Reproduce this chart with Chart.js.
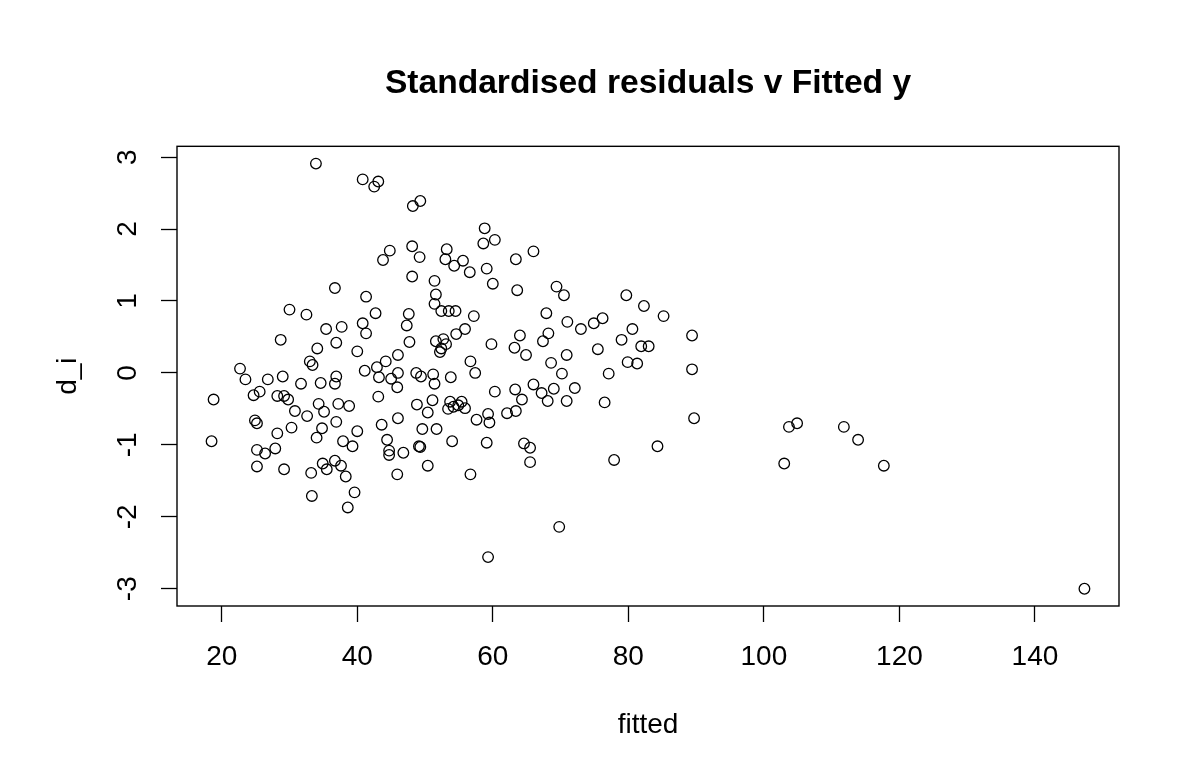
<!DOCTYPE html>
<html>
<head>
<meta charset="utf-8">
<title>Standardised residuals v Fitted y</title>
<script src="https://cdn.jsdelivr.net/npm/chart.js@4.4.1/dist/chart.umd.min.js"></script>
<style>
	body { margin: 0; background: #ffffff; }
	#divCanvas { width: 1200px; height: 772px; }
</style>
</head>
<body>
<div id="divCanvas"><canvas id="graficoResiduos" width="1200" height="772"></canvas></div>
<script>
// fitted values (x)
var fitted = [
	33.9, 40.8, 42.5, 43.1, 48.2, 49.3, 58.8, 60.3, 58.6, 66.0,
	63.4, 44.8, 43.8, 48.1, 49.2, 53.2, 53.0, 54.3, 55.6, 56.6,
	59.1, 60.0, 48.1, 63.6, 51.4, 51.6, 51.4, 52.4, 53.5, 54.5,
	57.2, 47.6, 47.3, 42.7, 41.3, 47.7, 51.6, 52.7, 53.1, 52.4,
	52.2, 54.6, 55.9, 59.8, 64.0, 63.2, 64.9, 68.2, 67.4, 67.9,
	71.0, 69.4, 70.5, 46.0, 44.2, 42.9, 56.7, 57.4, 68.6, 70.2,
	41.3, 43.2, 45.0, 46.0, 45.9, 48.7, 49.4, 51.2, 51.4, 53.8,
	43.1, 48.8, 51.1, 50.4, 53.7, 54.2, 54.9, 55.4, 53.4, 55.9,
	60.3, 63.3, 64.3, 66.0, 67.2, 68.1, 69.0, 70.9, 57.6, 59.3,
	59.5, 62.1, 63.4, 43.6, 46.0, 49.6, 51.7, 44.4, 44.7, 44.7,
	46.8, 49.1, 49.3, 54.0, 59.1, 64.6, 65.5, 65.5, 50.4, 45.9,
	56.7, 69.8, 59.3, 36.7, 30.0, 32.5, 35.4, 37.7, 40.8, 28.7,
	36.9, 34.1, 40.0, 33.0, 33.4, 22.7, 41.1, 23.5, 26.8, 29.0,
	31.7, 34.6, 36.9, 36.7, 18.8, 24.7, 25.6, 28.2, 29.2, 29.8,
	30.8, 32.6, 34.3, 35.1, 37.2, 38.8, 24.9, 25.2, 36.9, 18.5,
	28.2, 30.3, 34.8, 34.0, 40.0, 37.9, 39.3, 25.2, 26.4, 27.9,
	25.2, 29.2, 33.2, 34.9, 35.5, 36.7, 37.6, 38.3, 39.6, 33.3,
	38.6, 79.7, 82.3, 85.2, 73.0, 74.9, 76.2, 80.6, 79.0, 81.9,
	83.0, 89.4, 70.9, 75.5, 79.9, 81.3, 89.4, 77.1, 72.1, 76.5,
	89.7, 84.3, 77.9, 103.7, 104.9, 103.0, 111.8, 113.9, 117.7, 147.3
];

// standardised residuals d_i (y)
var residuos = [
	2.91, 2.69, 2.59, 2.66, 2.32, 2.39, 2.01, 1.85, 1.80, 1.69,
	1.58, 1.70, 1.57, 1.76, 1.61, 1.72, 1.58, 1.49, 1.56, 1.40,
	1.45, 1.24, 1.34, 1.15, 1.28, 1.09, 0.96, 0.86, 0.86, 0.86,
	0.79, 0.82, 0.66, 0.83, 1.06, 0.43, 0.44, 0.47, 0.40, 0.34,
	0.29, 0.54, 0.61, 0.40, 0.52, 0.35, 0.25, 0.55, 0.44, 0.83,
	0.71, 1.20, 1.08, 0.25, 0.16, 0.08, 0.16, 0.00, 0.14, -0.01,
	0.55, -0.06, -0.08, 0.00, -0.20, 0.00, -0.05, -0.02, -0.15, -0.06,
	-0.33, -0.44, -0.38, -0.55, -0.40, -0.47, -0.45, -0.40, -0.50, -0.49,
	-0.26, -0.23, -0.37, -0.16, -0.28, -0.39, -0.22, -0.39, -0.65, -0.57,
	-0.69, -0.56, -0.53, -0.72, -0.63, -0.78, -0.78, -0.93, -1.08, -1.14,
	-1.11, -1.02, -1.03, -0.95, -0.97, -0.98, -1.04, -1.24, -1.29, -1.41,
	-1.41, -2.14, -2.56, 1.18, 0.88, 0.81, 0.61, 0.64, 0.69, 0.46,
	0.42, 0.34, 0.30, 0.16, 0.11, 0.06, 0.03, -0.09, -0.09, -0.05,
	-0.15, -0.14, -0.05, -0.15, -0.37, -0.31, -0.26, -0.32, -0.32, -0.37,
	-0.53, -0.60, -0.43, -0.54, -0.43, -0.46, -0.66, -0.70, -0.68, -0.95,
	-0.84, -0.76, -0.77, -0.90, -0.81, -0.95, -1.02, -1.07, -1.12, -1.05,
	-1.30, -1.34, -1.39, -1.26, -1.34, -1.22, -1.29, -1.44, -1.66, -1.71,
	-1.87, 1.08, 0.93, 0.79, 0.61, 0.69, 0.76, 0.61, 0.46, 0.37,
	0.37, 0.52, 0.25, 0.33, 0.15, 0.13, 0.05, -0.01, -0.21, -0.41,
	-0.63, -1.02, -1.21, -0.75, -0.70, -1.26, -0.75, -0.93, -1.29, -3.00
];

var ticksX = [20, 40, 60, 80, 100, 120, 140];
var ticksY = [-3, -2, -1, 0, 1, 2, 3];

var fonte = "'Liberation Sans', Arial, sans-serif";

var pontos = [];
for (var i = 0; i < fitted.length; i++) {
	pontos.push({ x: fitted[i], y: residuos[i] });
}

// R style box around the plot region
var caixa = {
	id: 'caixa',
	afterDraw: function (chart) {
		var a = chart.chartArea;
		var ctx = chart.ctx;
		ctx.save();
		ctx.strokeStyle = '#000000';
		ctx.lineWidth = 1.4;
		ctx.strokeRect(a.left, a.top, a.right - a.left, a.bottom - a.top);
		ctx.restore();
	}
};

var contexto = document.getElementById('graficoResiduos');
var grafico = new Chart(contexto, {
	type: 'scatter',
	data: {
		datasets: [{
			data: pontos,
			showLine: false,
			pointStyle: 'circle',
			pointRadius: 5.3,
			pointHoverRadius: 5.3,
			pointBorderWidth: 1.3,
			pointBorderColor: '#000000',
			pointBackgroundColor: 'rgba(0,0,0,0)'
		}]
	},
	options: {
		responsive: false,
		animation: false,
		layout: { padding: { left: 0, right: 81, top: 0, bottom: 0 } },
		plugins: {
			legend: { display: false },
			tooltip: { enabled: false },
			title: {
				display: true,
				fullSize: false,
				text: 'Standardised residuals v Fitted y',
				color: '#000000',
				font: { family: fonte, size: 33.6, weight: 'bold' },
				padding: { top: 64, bottom: 42 }
			}
		},
		scales: {
			x: {
				type: 'linear',
				min: 13.4,
				max: 152.4,
				afterFit: function (scale) { scale.height = 166; },
				afterBuildTicks: function (scale) {
					scale.ticks = ticksX.map(function (v) { return { value: v }; });
				},
				grid: { drawOnChartArea: false, drawTicks: true, tickLength: 16, tickColor: '#000000', tickWidth: 1.3 },
				border: { display: false },
				ticks: {
					color: '#000000',
					font: { family: fonte, size: 28 },
					padding: 18,
					maxRotation: 0,
					minRotation: 0,
					autoSkip: false
				},
				title: {
					display: true,
					text: 'fitted',
					color: '#000000',
					font: { family: fonte, size: 28 },
					padding: { top: 0, bottom: 30 }
				}
			},
			y: {
				type: 'linear',
				min: -3.24,
				max: 3.15,
				afterFit: function (scale) { scale.width = 177; },
				afterBuildTicks: function (scale) {
					scale.ticks = ticksY.map(function (v) { return { value: v }; });
				},
				grid: { drawOnChartArea: false, drawTicks: true, tickLength: 16, tickColor: '#000000', tickWidth: 1.3 },
				border: { display: false },
				ticks: {
					color: '#000000',
					font: { family: fonte, size: 28 },
					padding: 20,
					minRotation: 90,
					maxRotation: 90,
					crossAlign: 'center',
					autoSkip: false
				},
				title: {
					display: true,
					text: 'd_i',
					color: '#000000',
					font: { family: fonte, size: 28 },
					padding: { top: 51, bottom: 0 }
				}
			}
		}
	},
	plugins: [caixa]
});
</script>
</body>
</html>
